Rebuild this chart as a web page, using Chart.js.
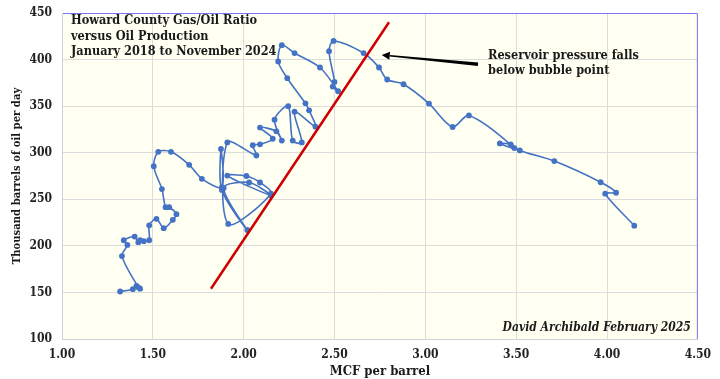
<!DOCTYPE html>
<html>
<head>
<meta charset="utf-8">
<script src="https://cdn.jsdelivr.net/npm/chart.js@4"></script>
<style>
html,body{margin:0;padding:0;background:#ffffff;}
#wrap{width:720px;height:379px;position:relative;}
</style>
</head>
<body>
<div id="wrap"><canvas id="c" width="720" height="379"></canvas></div>
<script>
// Gas/oil ratio (MCF per barrel), Jan 2018 -> Nov 2024
const gorMcfPerBbl = [1.32,1.39,1.41,1.43,1.42,1.33,1.36,1.34,1.40,1.42,1.43,1.45,1.48,1.48,1.52,1.56,1.61,1.63,1.59,1.57,1.55,1.505,1.53,1.60,1.70,1.77,1.88,1.875,1.88,2.02,1.89,2.03,2.15,1.91,2.015,2.09,2.15,1.915,1.91,2.07,2.05,2.09,2.16,2.09,2.18,2.21,2.17,2.245,2.27,2.32,2.28,2.395,2.36,2.34,2.24,2.19,2.21,2.28,2.42,2.52,2.49,2.50,2.47,2.495,2.66,2.745,2.79,2.88,3.02,3.15,3.24,3.49,3.41,3.47,3.52,3.71,3.965,4.05,3.99,4.15];
// Oil production, thousand barrels per day
const oilKbd = [151,153.5,157,154,155.5,189,201,206,210,204,206,205,206,222,229,219,228,234,241.5,241.5,261,285.5,301,301,287,272,263,304,260,217,262,268,254,275.5,275,268,256,223.5,311,297,308,309,315,327,323,313,335.5,350,313,311,344,328,345.5,353,380,398,415.5,407,391.5,366,371,376,409,420,407,391.5,378.6,373.5,352.8,327.6,340,305,310,309,302.5,291,268.3,257,256,221.7];
// Red bubble-point line endpoints
const bubbleLineX = [1.82, 2.80];
const bubbleLineY = [154, 440];
// Arrow (tail -> head) in data units
const arrowX = [3.29, 2.76];
const arrowY = [395, 405];
const xTicks = [1.00,1.50,2.00,2.50,3.00,3.50,4.00,4.50];
const yTicks = [100,150,200,250,300,350,400,450];
const titleLines = ["Howard County Gas/Oil Ratio","versus Oil Production","January 2018 to November 2024"];
const noteLines = ["Reservoir pressure falls","below bubble point"];
const signature = "David Archibald February 2025";

const SERIF = "'DejaVu Serif Condensed','DejaVu Serif','Liberation Serif',serif";

const mainPts = gorMcfPerBbl.map((x,i)=>({x:x,y:oilKbd[i]}));
const redPts = bubbleLineX.map((x,i)=>({x:x,y:bubbleLineY[i]}));

const decor = {
  id:'decor',
  beforeDraw(chart){
    const {ctx, chartArea:a} = chart;
    ctx.save();
    ctx.fillStyle = '#FFFFF2';
    ctx.fillRect(a.left, a.top, a.right-a.left, a.bottom-a.top);
    ctx.restore();
  },
  afterDatasetsDraw(chart){
    const {ctx, chartArea:a, scales} = chart;
    const xs = scales.x, ys = scales.y;
    ctx.save();
    // border
    ctx.strokeStyle = '#7878F0';
    ctx.lineWidth = 1;
    ctx.beginPath();
    ctx.moveTo(a.left, a.top+0.5); ctx.lineTo(a.right-0.5, a.top+0.5); ctx.lineTo(a.right-0.5, a.bottom);
    ctx.stroke();
    ctx.strokeStyle = '#D0D0D0';
    ctx.beginPath();
    ctx.moveTo(a.left+0.5, a.top); ctx.lineTo(a.left+0.5, a.bottom+0.5); ctx.lineTo(a.right, a.bottom+0.5);
    ctx.stroke();

    // title
    ctx.fillStyle = '#1a1a1a';
    ctx.font = "bold 12.6px " + SERIF;
    ctx.textBaseline = 'alphabetic';
    ctx.textAlign = 'left';
    titleLines.forEach((t,i)=>ctx.fillText(t, 71, a.top + 11 + i*15.5));

    // note
    noteLines.forEach((t,i)=>ctx.fillText(t, 488, 59 + i*15));

    // arrow (tapered body + head)
    const x1 = xs.getPixelForValue(arrowX[0]), y1 = ys.getPixelForValue(arrowY[0]);
    const x2 = xs.getPixelForValue(arrowX[1]), y2 = ys.getPixelForValue(arrowY[1]);
    const ang = Math.atan2(y2-y1, x2-x1);
    const nx = -Math.sin(ang), ny = Math.cos(ang);
    ctx.fillStyle = '#000';
    const hl = 8;
    const bx = x2 - Math.cos(ang)*hl, by = y2 - Math.sin(ang)*hl;
    ctx.beginPath();
    ctx.moveTo(x1 + nx*1.8, y1 + ny*1.8);
    ctx.lineTo(bx + nx*0.8, by + ny*0.8);
    ctx.lineTo(bx - nx*0.8, by - ny*0.8);
    ctx.lineTo(x1 - nx*1.8, y1 - ny*1.8);
    ctx.closePath(); ctx.fill();
    ctx.beginPath();
    ctx.moveTo(x2,y2);
    ctx.lineTo(bx + nx*4, by + ny*4);
    ctx.lineTo(bx - nx*4, by - ny*4);
    ctx.closePath(); ctx.fill();

    // signature
    ctx.font = "italic bold 12px " + SERIF;
    ctx.textAlign = 'right';
    ctx.fillStyle = '#1a1a1a';
    ctx.fillText(signature, a.right - 7, a.bottom - 8);
    ctx.restore();
  }
};

new Chart(document.getElementById('c'), {
  type: 'line',
  data: {
    datasets: [
      {
        data: redPts, borderColor:'#CC0000', borderWidth:2.5, pointRadius:0, tension:0, order:0, fill:false
      },
      {
        data: mainPts, borderColor:'#4472C4', backgroundColor:'#4472C4', borderWidth:1.6,
        pointRadius:2.9, pointHoverRadius:2.9, pointBorderWidth:0, tension:0.3, order:1, fill:false
      }
    ]
  },
  options: {
    responsive:false, animation:false,
    layout:{padding:{left:0,right:19,top:0,bottom:0}},
    plugins:{legend:{display:false}, tooltip:{enabled:false}},
    scales:{
      x:{
        type:'linear', min:1, max:4.5,
        afterBuildTicks(s){ s.ticks = xTicks.map(v=>({value:v})); },
        afterFit(s){ s.height = 40; },
        grid:{color:'#DCDCDC', drawTicks:false, lineWidth:1},
        border:{display:false},
        ticks:{padding:9, color:'#222', font:{family:SERIF, size:12, weight:'bold'}, callback:v=>Number(v).toFixed(2)},
        title:{display:true, text:'MCF per barrel', color:'#1a1a1a', padding:{top:2,bottom:0}, font:{family:SERIF,size:13,weight:'bold'}}
      },
      y:{
        type:'linear', min:100, max:450,
        afterBuildTicks(s){ s.ticks = yTicks.map(v=>({value:v})); },
        afterFit(s){ s.width = 62; s.paddingTop = 13; },
        grid:{color:'#DCDCDC', drawTicks:false, lineWidth:1},
        border:{display:false},
        ticks:{padding:10, color:'#222', font:{family:SERIF, size:12, weight:'bold', lineHeight:1}},
        title:{display:true, text:'Thousand barrels of oil per day', color:'#1a1a1a', padding:{top:10,bottom:0}, font:{family:SERIF,size:11.2,weight:'bold'}}
      }
    }
  },
  plugins:[decor]
});
</script>
</body>
</html>
